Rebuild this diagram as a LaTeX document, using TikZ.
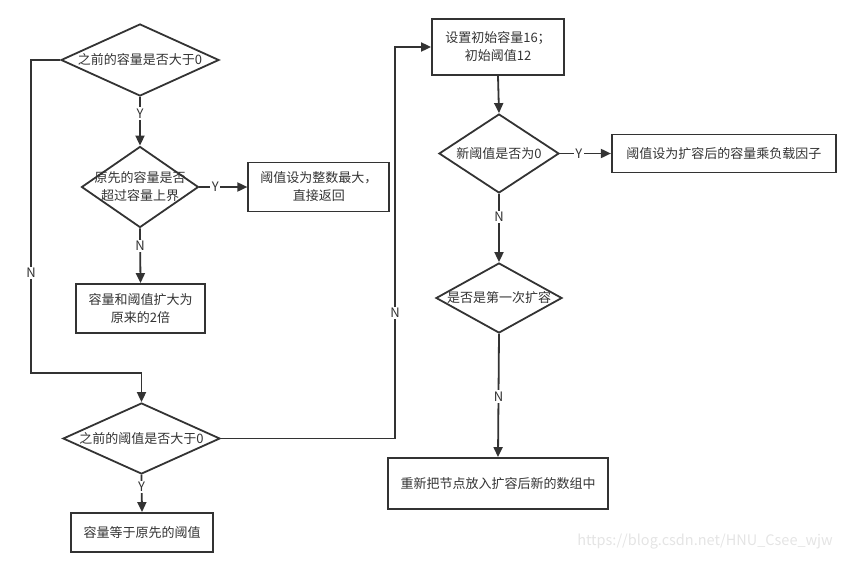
\documentclass[tikz,border=0pt]{standalone}
\usepackage{fontspec}
\usepackage{tikz}
\usetikzlibrary{positioning,arrows.meta,shapes.geometric}
\newfontfamily\cjk{Noto Sans CJK SC}
\definecolor{ink}{RGB}{51,51,51}
\definecolor{mark}{RGB}{228,228,228}
\definecolor{white}{RGB}{255,255,255}

\begin{document}
\begin{tikzpicture}[x=1pt, y=-1pt, font=\cjk\fontsize{13}{18}\selectfont, text=ink,
  box/.style={draw=ink, line width=1.8pt, align=center, inner sep=2pt},
  decision/.style={draw=ink, line width=1.8pt, diamond, inner sep=0pt},
  dtext/.style={align=center, text=ink, inner sep=0pt},
  flow/.style={-{Triangle[length=10pt, width=9pt]}, line width=1.8pt, draw=ink},
  lbl/.style={fill=white, inner sep=1.5pt, text=ink}]
  \useasboundingbox (0,0) rectangle (846,560);
  % left column
  \node[decision, minimum width=158pt, minimum height=72pt, label={[dtext]center:之前的容量是否大于0}] (cap0) at (140,60) {};
  \node[decision, minimum width=117pt, minimum height=81pt, label={[dtext]center:{原先的容量是否\\超过容量上界}}] (capmax) at (140,187) {};
  \node[box, minimum width=141pt, minimum height=49pt, right=48pt of capmax] (setmax) {阈值设为整数最大，\\直接返回};
  \node[box, minimum width=129pt, minimum height=49pt] (double) at (140.5,308.5) {容量和阈值扩大为\\原来的2倍};
  \node[decision, minimum width=157pt, minimum height=71pt, label={[dtext]center:之前的阈值是否大于0}] (thr0) at (141.5,438.5) {};
  \node[box, minimum width=142pt, minimum height=39pt] (thrcap) at (142,532.5) {容量等于原先的阈值};
  % right column
  \node[box, minimum width=132pt, minimum height=56pt] (init) at (498,47) {设置初始容量16；\\初始阈值12};
  \node[decision, minimum width=120pt, minimum height=79pt, label={[dtext]center:新阈值是否为0}] (newthr) at (499,153.5) {};
  \node[box, minimum width=224pt, minimum height=38pt, right=51pt of newthr] (loadf) {阈值设为扩容后的容量乘负载因子};
  \node[decision, minimum width=126pt, minimum height=70pt, label={[dtext]center:是否是第一次扩容}] (first) at (499,298) {};
  \node[box, minimum width=220pt, minimum height=51pt] (rehash) at (498,483.5) {重新把节点放入扩容后新的数组中};
  \node[text=mark, font=\cjk\fontsize{14.5}{16}\selectfont] (wmark) at (705,542) {https://blog.csdn.net/HNU\_Csee\_wjw};
  \coordinate (lturn) at (31,373);
  \coordinate (rturn) at (395,47);
  \draw[flow] (cap0.south) -- node[lbl, pos=0.34] {Y} (capmax.north);
  \draw[flow] (capmax.east) -- node[lbl, pos=0.33] {Y} (setmax.west);
  \draw[flow] (capmax.south) -- node[lbl, pos=0.32] {N} (double.north);
  \draw[flow] (cap0.west) -| node[lbl, pos=0.84] {N} (lturn) -| (thr0.north);
  \draw[flow] (thr0.south) -- node[lbl, pos=0.33] {Y} (thrcap.north);
  \draw[flow] (thr0.east) -| node[lbl, pos=0.66] {N} (rturn) -- (init.west);
  \draw[flow] (init.south) -- (newthr.north);
  \draw[flow] (newthr.east) -- node[lbl, pos=0.37] {Y} (loadf.west);
  \draw[flow] (newthr.south) -- node[lbl, pos=0.34] {N} (first.north);
  \draw[flow] (first.south) -- node[lbl, pos=0.51] {N} (rehash.north);
\end{tikzpicture}
\end{document}
